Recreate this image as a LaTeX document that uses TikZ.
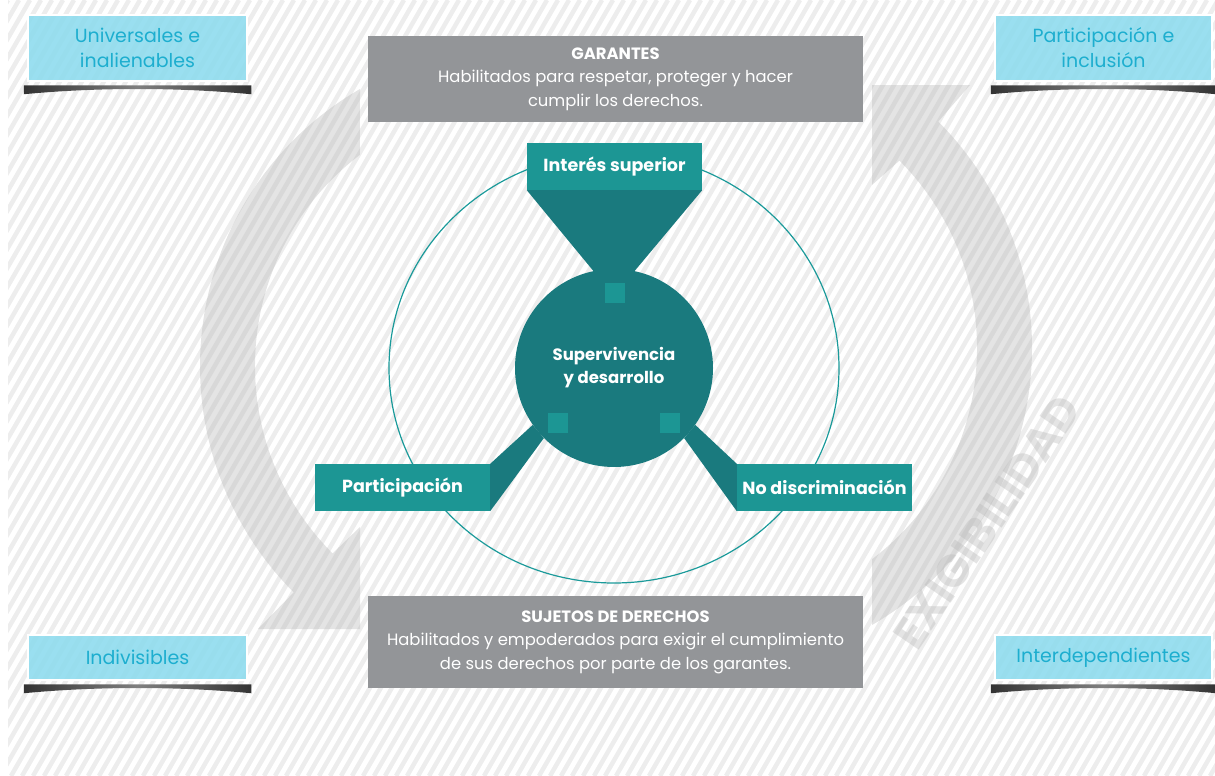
\documentclass[tikz,border=0pt]{standalone}
\usepackage{fontspec}
\setmainfont{Poppins}
\definecolor{boxgray}{HTML}{939598}
\definecolor{tealbox}{HTML}{1C9694}
\definecolor{tealdark}{HTML}{1A7A7E}
\definecolor{tealring}{HTML}{1A9A9A}
\definecolor{skyfill}{HTML}{8FDCEE}
\definecolor{skytext}{HTML}{1DAECF}
\definecolor{hatchgray}{HTML}{EDEDED}
\begin{document}
\begin{tikzpicture}[x=1pt,y=-1pt,
  hatchline/.style={hatchgray,line width=4.5pt},
  bigarrow/.style={fill=black!29,opacity=.37},
  sky/.style={draw=white,line width=2.5pt,fill=skyfill,fill opacity=.9,text opacity=1,text=skytext,minimum width=219pt,align=center,font=\fontsize{19}{25}\selectfont},
  garant/.style={fill=boxgray,text=white,minimum width=495pt,align=center,font=\fontsize{16.4}{23.5}\selectfont},
  principle/.style={fill=tealbox,text=white,minimum width=175pt,minimum height=47pt,font=\bfseries\fontsize{17.5}{20}\selectfont},
  sq/.style={fill=tealbox,minimum size=20pt,inner sep=0pt}]
  \useasboundingbox (0,0) rectangle (1215,776);
  \begin{scope}
    \clip (8,0) rectangle (1215,775);
    \foreach \k in {-41,...,111} \draw[hatchline] (\k*11,776) -- ++(448,-776);
  \end{scope}
  \fill[bigarrow] (360,89) arc[start angle=-120,end angle=-225,radius=320] -- (258,629) -- (360,629)
    -- (360,527) -- (332.6,553.4) arc[start angle=-225,end angle=-127.15,radius=265] -- cycle;
  \fill[bigarrow] (872,625) arc[start angle=60,end angle=-45,radius=320] -- (970,85) -- (872,85)
    -- (872,185) -- (899.4,160.6) arc[start angle=-45,end angle=52.85,radius=265] -- cycle;
  \node[rotate=55.6,text=black!29,text opacity=.37,font=\bfseries\fontsize{45}{45}\selectfont] (exig) at (987,522) {EXIGIBILIDAD};
  \draw[tealring,line width=1.2pt] (614,368) ellipse [x radius=225,y radius=215];
  \node[sky,minimum height=66pt] (univ) at (137.5,48) {Universales e\\inalienables};
  \node[sky,minimum height=66pt,minimum width=217pt] (partinc) at (1103.5,48) {Participación e\\inclusión};
  \node[sky,minimum height=45pt] (indiv) at (137.5,657.5) {Indivisibles};
  \node[sky,minimum height=45pt,minimum width=217pt] (interdep) at (1103.5,657.5) {Interdependientes};
  \foreach \b in {univ,partinc,indiv,interdep}
    \shade[left color=black!80,right color=black!80,middle color=black!50]
      ([xshift=-3pt,yshift=-3pt]\b.south west) -- ([xshift=3pt,yshift=-3pt]\b.south east)
      -- ([xshift=3pt,yshift=-12pt]\b.south east) .. controls ([xshift=-70pt,yshift=-5pt]\b.south east)
      and ([xshift=70pt,yshift=-5pt]\b.south west) .. ([xshift=-3pt,yshift=-12pt]\b.south west) -- cycle;
  \node[garant,minimum height=86pt] (garantes) at (615.5,79) {\textbf{GARANTES}\\Habilitados para respetar, proteger y hacer\\cumplir los derechos.};
  \node[garant,minimum height=92pt] (sujetos) at (615.5,642) {\textbf{SUJETOS DE DERECHOS}\\Habilitados y empoderados para exigir el cumplimiento\\de sus derechos por parte de los garantes.};
  \node[circle,fill=tealdark,minimum size=198pt,inner sep=0pt,text=white,align=center,font=\bfseries\fontsize{16.5}{23}\selectfont] (superv) at (614,368) {Supervivencia\\y desarrollo};
  \node[principle] (inter) at (614.5,166.5) {Interés superior};
  \node[principle] (part) at (402.5,487.5) {Participación};
  \node[principle] (nodisc) at (824.5,487.5) {No discriminación};
  \fill[tealdark] (inter.south west) -- (superv.102) -- (superv.78) -- (inter.south east) -- cycle;
  \fill[tealdark] (part.north east) -- (superv.215) -- (superv.225) -- (part.south east) -- cycle;
  \fill[tealdark] (nodisc.north west) -- (superv.325) -- (superv.315) -- (nodisc.south west) -- cycle;
  \node[sq] (sqtop) at (614.5,292.5) {};
  \node[sq] (sqleft) at (557.5,422.5) {};
  \node[sq] (sqright) at (669.5,422.5) {};
\end{tikzpicture}
\end{document}
